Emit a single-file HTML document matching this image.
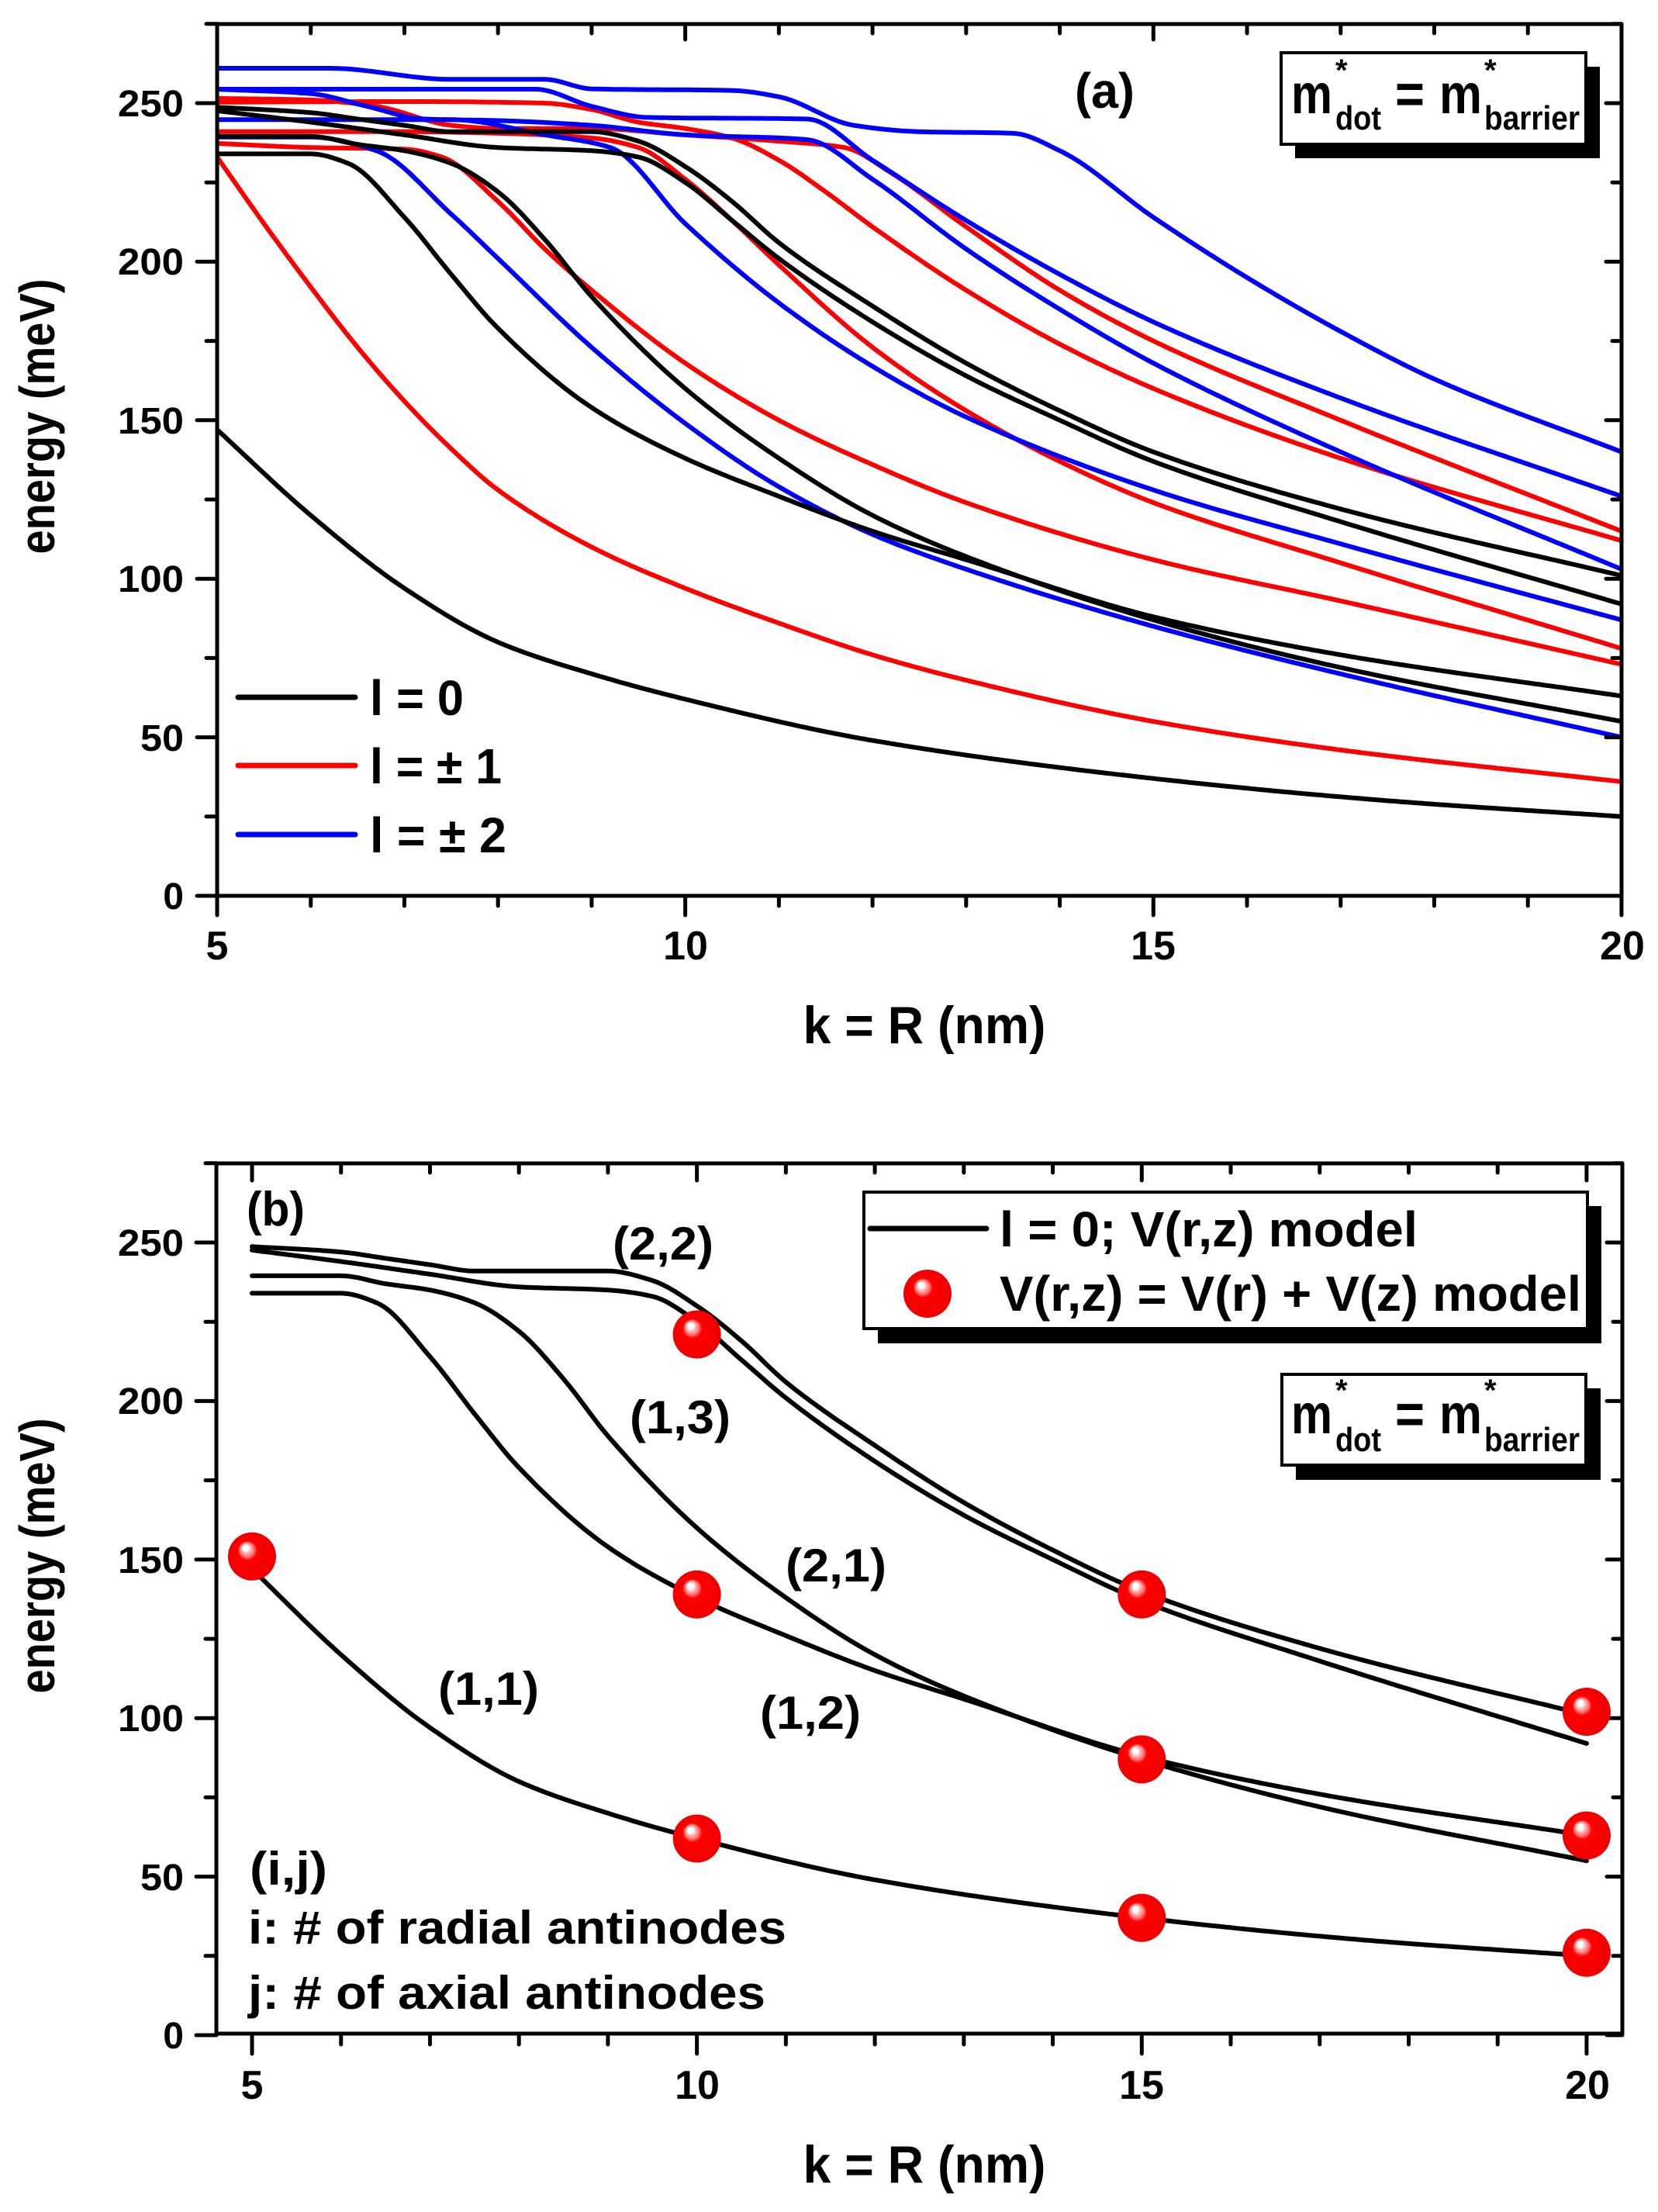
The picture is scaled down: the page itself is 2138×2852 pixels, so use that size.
<!DOCTYPE html>
<html><head><meta charset="utf-8"><style>
html,body{margin:0;padding:0;background:#fff;}
svg{display:block;}
text{font-family:"Liberation Sans",Arial,sans-serif;font-weight:bold;fill:#000;}
</style></head><body>
<svg id="s" width="2138" height="2852" viewBox="0 0 2138 2852" xmlns="http://www.w3.org/2000/svg">
<defs>
<radialGradient id="sph" cx="0.5" cy="0.5" r="0.5" fx="0.35" fy="0.3">
<stop offset="0" stop-color="#ffffff"/>
<stop offset="0.12" stop-color="#ffffff"/>
<stop offset="0.2" stop-color="#ffb0b0"/>
<stop offset="0.3" stop-color="#ff7070"/>
<stop offset="0.4" stop-color="#ff0000"/>
<stop offset="1" stop-color="#f00000"/>
</radialGradient>
<clipPath id="ca"><rect x="280" y="31" width="1811" height="1124"/></clipPath>
<clipPath id="cb"><rect x="279" y="1500" width="1813" height="1122"/></clipPath>
</defs>
<g id="ga" clip-path="url(#ca)" fill="none" stroke-width="6" stroke-linejoin="round" stroke-linecap="round"></g>
<g id="gb" clip-path="url(#cb)" fill="none" stroke-width="6" stroke-linejoin="round" stroke-linecap="round"></g>
<g id="ax" stroke="#000" stroke-width="5" fill="none" stroke-linecap="round"></g>

<g font-size="48" text-anchor="end">
<text x="237" y="1172">0</text>
<text x="237" y="968" textLength="56" lengthAdjust="spacingAndGlyphs">50</text>
<text x="237" y="763" textLength="85" lengthAdjust="spacingAndGlyphs">100</text>
<text x="237" y="559" textLength="85" lengthAdjust="spacingAndGlyphs">150</text>
<text x="237" y="354" textLength="85" lengthAdjust="spacingAndGlyphs">200</text>
<text x="237" y="150" textLength="85" lengthAdjust="spacingAndGlyphs">250</text>
</g>
<g font-size="52" text-anchor="middle">
<text x="280" y="1237">5</text>
<text x="884" y="1237">10</text>
<text x="1487" y="1237">15</text>
<text x="2092" y="1237">20</text>
</g>
<text x="1192" y="1345" font-size="68" text-anchor="middle" textLength="313" lengthAdjust="spacingAndGlyphs">k = R (nm)</text>
<text transform="translate(70,537) rotate(-90)" font-size="64" text-anchor="middle" textLength="355" lengthAdjust="spacingAndGlyphs">energy (meV)</text>
<text x="1386" y="139" font-size="64" textLength="77" lengthAdjust="spacingAndGlyphs">(a)</text>

<rect x="1670" y="86" width="393" height="118" fill="#000"/>
<rect x="1652" y="68" width="393" height="118" fill="#fff" stroke="#000" stroke-width="4"/>
<text x="1665" y="146" font-size="72" textLength="53" lengthAdjust="spacingAndGlyphs">m</text>
<text x="1722" y="104" font-size="40">*</text>
<text x="1722" y="167" font-size="44" textLength="59" lengthAdjust="spacingAndGlyphs">dot</text>
<text x="1799" y="146" font-size="72" textLength="38" lengthAdjust="spacingAndGlyphs">=</text>
<text x="1856" y="146" font-size="72" textLength="55" lengthAdjust="spacingAndGlyphs">m</text>
<text x="1914" y="104" font-size="40">*</text>
<text x="1914" y="167" font-size="44" textLength="123" lengthAdjust="spacingAndGlyphs">barrier</text>

<line x1="307" y1="899" x2="458" y2="899" stroke="#000" stroke-width="7" stroke-linecap="round"/>
<line x1="307" y1="987" x2="458" y2="987" stroke="#f00" stroke-width="7" stroke-linecap="round"/>
<line x1="307" y1="1076" x2="458" y2="1076" stroke="#00f" stroke-width="7" stroke-linecap="round"/>
<text x="477" y="922" font-size="64" textLength="121" lengthAdjust="spacingAndGlyphs">l = 0</text>
<text x="477" y="1010" font-size="64" textLength="170" lengthAdjust="spacingAndGlyphs">l = ± 1</text>
<text x="477" y="1099" font-size="64" textLength="176" lengthAdjust="spacingAndGlyphs">l = ± 2</text>

<g font-size="48" text-anchor="end">
<text x="237" y="2641">0</text>
<text x="237" y="2437" textLength="56" lengthAdjust="spacingAndGlyphs">50</text>
<text x="237" y="2232" textLength="85" lengthAdjust="spacingAndGlyphs">100</text>
<text x="237" y="2028" textLength="85" lengthAdjust="spacingAndGlyphs">150</text>
<text x="237" y="1823" textLength="85" lengthAdjust="spacingAndGlyphs">200</text>
<text x="237" y="1619" textLength="85" lengthAdjust="spacingAndGlyphs">250</text>
</g>
<g font-size="52" text-anchor="middle">
<text x="325" y="2706">5</text>
<text x="899" y="2706">10</text>
<text x="1472" y="2706">15</text>
<text x="2047" y="2706">20</text>
</g>
<text x="1192" y="2814" font-size="68" text-anchor="middle" textLength="313" lengthAdjust="spacingAndGlyphs">k = R (nm)</text>
<text transform="translate(70,2006) rotate(-90)" font-size="64" text-anchor="middle" textLength="355" lengthAdjust="spacingAndGlyphs">energy (meV)</text>
<text x="318" y="1580" font-size="62" textLength="75" lengthAdjust="spacingAndGlyphs">(b)</text>

<g font-size="60" text-anchor="middle">
<text x="855" y="1624" textLength="130" lengthAdjust="spacingAndGlyphs">(2,2)</text>
<text x="877" y="1848" textLength="130" lengthAdjust="spacingAndGlyphs">(1,3)</text>
<text x="1078" y="2039" textLength="130" lengthAdjust="spacingAndGlyphs">(2,1)</text>
<text x="630" y="2198" textLength="130" lengthAdjust="spacingAndGlyphs">(1,1)</text>
<text x="1045" y="2229" textLength="130" lengthAdjust="spacingAndGlyphs">(1,2)</text>
</g>
<text x="322" y="2430" font-size="60" textLength="100" lengthAdjust="spacingAndGlyphs">(i,j)</text>
<text x="320" y="2506" font-size="60" textLength="694" lengthAdjust="spacingAndGlyphs">i: # of radial antinodes</text>
<text x="320" y="2590" font-size="60" textLength="667" lengthAdjust="spacingAndGlyphs">j: # of axial antinodes</text>

<rect x="1132" y="1555" width="933" height="177" fill="#000"/>
<rect x="1114" y="1537" width="933" height="176" fill="#fff" stroke="#000" stroke-width="4"/>
<line x1="1122" y1="1584" x2="1272" y2="1584" stroke="#000" stroke-width="7" stroke-linecap="round"/>
<text x="1289" y="1607" font-size="64" textLength="539" lengthAdjust="spacingAndGlyphs">l = 0; V(r,z) model</text>
<ellipse cx="1196" cy="1668" rx="31" ry="31" fill="url(#sph)"/>
<text x="1289" y="1690" font-size="64" textLength="750" lengthAdjust="spacingAndGlyphs">V(r,z) = V(r) + V(z) model</text>

<rect x="1671" y="1790" width="393" height="118" fill="#000"/>
<rect x="1653" y="1772" width="392" height="117" fill="#fff" stroke="#000" stroke-width="4"/>
<text x="1665" y="1848" font-size="72" textLength="53" lengthAdjust="spacingAndGlyphs">m</text>
<text x="1722" y="1806" font-size="40">*</text>
<text x="1722" y="1871" font-size="44" textLength="59" lengthAdjust="spacingAndGlyphs">dot</text>
<text x="1799" y="1848" font-size="72" textLength="38" lengthAdjust="spacingAndGlyphs">=</text>
<text x="1856" y="1848" font-size="72" textLength="55" lengthAdjust="spacingAndGlyphs">m</text>
<text x="1914" y="1806" font-size="40">*</text>
<text x="1914" y="1871" font-size="44" textLength="123" lengthAdjust="spacingAndGlyphs">barrier</text>

<g id="sp"></g>
</svg>
<script>
(function(){
var NS="http://www.w3.org/2000/svg";
function Xa(x){return 280+(x-5)*120.73;} function Ya(e){return 1155-e*4.088;}
function Xb(x){return 325+(x-5)*114.73;} function Yb(e){return 2624-e*4.088;}
function mono(pts){
 var n=pts.length,xs=pts.map(function(p){return p[0];}),ys=pts.map(function(p){return p[1];});
 var dl=[],m=[];
 for(var i=0;i<n-1;i++)dl.push((ys[i+1]-ys[i])/(xs[i+1]-xs[i]));
 m[0]=dl[0];m[n-1]=dl[n-2];
 for(var i=1;i<n-1;i++){ if(dl[i-1]*dl[i]<=0)m[i]=0; else { var w1=2*(xs[i+1]-xs[i])+(xs[i]-xs[i-1]),w2=(xs[i+1]-xs[i])+2*(xs[i]-xs[i-1]); m[i]=(w1+w2)/(w1/dl[i-1]+w2/dl[i]); } }
 return function(x){
  var i=0; while(i<n-2&&x>xs[i+1])i++;
  var h=xs[i+1]-xs[i],t=(x-xs[i])/h,t2=t*t,t3=t2*t;
  return (2*t3-3*t2+1)*ys[i]+(t3-2*t2+t)*h*m[i]+(-2*t3+3*t2)*ys[i+1]+(t3-t2)*h*m[i+1];
 };
}
function path(pts,X,Y){
 var f=mono(pts),d="";
 for(var x=5;x<=20.0001;x+=0.04){d+=(d?"L":"M")+X(x).toFixed(1)+","+Y(f(x)).toFixed(1);}
 return d;
}
var black=[
[[5,147],[6,120],[7,97],[8,80],[9,70],[10,62],[12,49],[15,37],[17.5,30],[20,25]],
[[5,234],[6,234],[6.4,231],[7,214],[7.5,196],[8,179],[9,154],[10,138],[11,126],[12,115],[13,106],[15,88],[17,76],[20,63]],
[[5,239.5],[6,239.5],[6.5,237],[7,235],[7.5,231],[8,222],[8.5,207],[9,189],[10,160],[11,138],[12,120],[13,107],[15,87],[17,72],[20,55]],
[[5,247.6],[6,244],[7,240],[8,236],[9,235],[9.5,233],[10,225],[10.5,213],[11,201],[12,181],[13,164],[14,150],[15,137],[17,118],[20,92]],
[[5,248.7],[6,247],[6.5,245],[7,243],[7.5,241],[9,241],[9.5,238],[10,230],[10.5,219],[11,206],[12,186],[13,168],[14,153],[15,140],[17,122],[20,101]]
];
var red=[
[[5,233],[5.5,212],[6,192],[6.5,173],[7,156],[7.5,141],[8,128],[9,110],[10,97],[11,86],[12,76],[13,68],[15,55],[17,46],[20,36]],
[[5,237.3],[6,236],[7,235.5],[7.4,233],[8,219],[8.5,204],[9,191],[10,168],[11,150],[12,136],[13,124],[15,106],[17,93],[20,73]],
[[5,241],[7,241],[8,240.5],[9,239],[9.5,236],[10,226],[10.5,213],[11,199],[12,173],[13,153],[14,137],[15,124],[17,105],[20,78]],
[[5,250.3],[7,250.5],[8.5,250],[9,248],[9.5,244],[10,242],[10.5,239],[11,232],[11.5,222],[12,211],[13,191],[14,174],[15,160],[17,138],[20,112]],
[[5,251.5],[6,251],[6.7,249],[7.5,243],[8,242],[9,242],[10,240],[11,238],[11.7,236],[12.2,228],[13,211],[14,191],[15,175],[17,150],[20,115]]
];
var blue=[
[[5,261],[6.2,261],[7.5,257.5],[8.5,257.5],[9,254.5],[10.5,254],[11,252],[11.8,243],[12.5,241],[13.5,240.5],[14,235],[15,214],[16,195],[17,178],[18,163],[20,140]],
[[5,254.4],[8.4,254.4],[9,249],[9.6,245.5],[11.3,245],[12,232],[13,213],[14,196],[15,181],[17,157],[20,126]],
[[5,254.4],[6,253],[6.6,249],[7.2,245],[8,244.5],[9,243],[10,240],[11.3,238.5],[12,226],[13,204],[14,185],[15,168],[17,140],[20,103]],
[[5,244.8],[7.5,244.8],[8.5,240],[9.2,236],[10,212],[11,187],[12,167],[13,151],[15,128],[17,111],[20,87]],
[[5,239.3],[6,239.3],[6.7,235],[7.5,215],[8,201],[9,173],[10,149],[11,129],[12,114],[13,103],[15,85],[17,70],[20,50]]
];
var ga=document.getElementById("ga"),gb=document.getElementById("gb");
function add(g,d,c){var e=document.createElementNS(NS,"path");e.setAttribute("d",d);e.setAttribute("stroke",c);g.appendChild(e);}
red.forEach(function(c){add(ga,path(c,Xa,Ya),"#f00");});
blue.forEach(function(c){add(ga,path(c,Xa,Ya),"#00f");});
black.forEach(function(c){add(ga,path(c,Xa,Ya),"#000");});
black.forEach(function(c){add(gb,path(c,Xb,Yb),"#000");});
var ax=document.getElementById("ax"),d="";
function L(x1,y1,x2,y2){d+="M"+x1+","+y1+"L"+x2+","+y2;}
L(280,31,2091,31);L(280,1155,2091,1155);L(280,31,280,1155);L(2091,31,2091,1155);
for(var x=5;x<=20;x++){var px=Xa(x),maj=(x%5==0);L(px,1155,px,1155+(maj?25:13));L(px,31,px,31+(maj?20:12));}
for(var e=0;e<=275;e+=25){var py=Ya(e),maj=(e%50==0);L(280,py,280-(maj?26:14),py);L(2091,py,2091-(maj?20:12),py);}
L(279,1500,2092,1500);L(279,2622,2092,2622);L(279,1500,279,2622);L(2092,1500,2092,2622);
for(var x=5;x<=20;x++){var px=Xb(x),maj=(x%5==0);L(px,2622,px,2622+(maj?26:14));L(px,1500,px,1500+(maj?22:12));}
for(var e=0;e<=275;e+=25){var py=Yb(e),maj=(e%50==0);L(279,py,279-(maj?26:14),py);L(2092,py,2092-(maj?20:12),py);}
var pe=document.createElementNS(NS,"path");pe.setAttribute("d",d);ax.appendChild(pe);
var sp=document.getElementById("sp");
[[5,151],[10,221],[10,139],[10,62],[15,139],[15,87],[15,37],[20,102],[20,63],[20,26]].forEach(function(q){
 var c=document.createElementNS(NS,"circle");c.setAttribute("cx",Xb(q[0]));c.setAttribute("cy",Yb(q[1]));c.setAttribute("r",31);c.setAttribute("fill","url(#sph)");sp.appendChild(c);});
})();
</script>
</body></html>
